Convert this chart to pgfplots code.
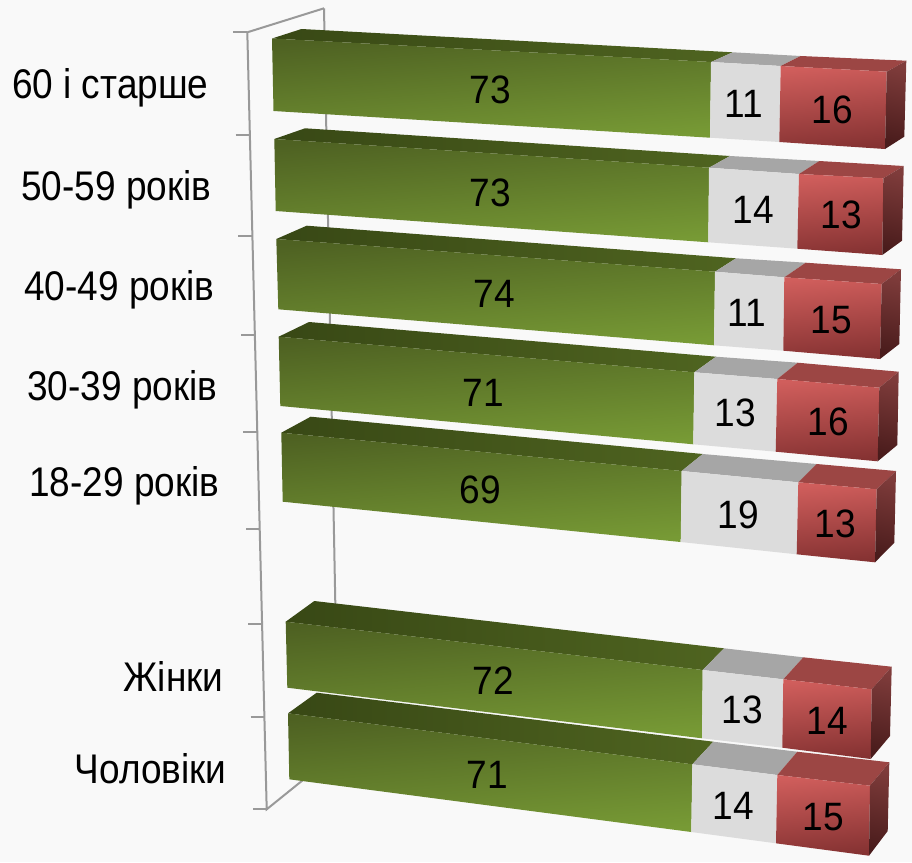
\documentclass[border=0pt]{standalone}
\usepackage{fontspec}
\setmainfont{Liberation Sans}
\usepackage{pgfplots}
\pgfplotsset{compat=1.18}

\definecolor{bgc}{HTML}{F9F9F9}
\definecolor{wall}{HTML}{999999}
\definecolor{greenT}{HTML}{4E6122}
\definecolor{greenB}{HTML}{779A35}
\definecolor{greenTopL}{HTML}{384815}
\definecolor{greenTopR}{HTML}{4F6420}
\definecolor{greyF}{HTML}{DCDCDC}
\definecolor{greyT}{HTML}{A6A6A6}
\definecolor{redT}{HTML}{D05E5C}
\definecolor{redB}{HTML}{853232}
\definecolor{redTop}{HTML}{9C4644}
\definecolor{sideT}{HTML}{7F3C3B}
\definecolor{sideB}{HTML}{4A1C1C}

% front top, front bottom, back top of the left and the right end of each part
\newcommand{\greenpart}[6]{
  \addplot[draw=none, left color=greenTopL, right color=greenTopR] coordinates {#1 #3 #6 #4} --cycle;
  \addplot[draw=none, top color=greenT, bottom color=greenB, shading angle=5] coordinates {#1 #4 #5 #2} --cycle;
}
\newcommand{\greypart}[6]{
  \addplot[draw=none, fill=greyT] coordinates {#1 #3 #6 #4} --cycle;
  \addplot[draw=none, fill=greyF] coordinates {#1 #4 #5 #2} --cycle;
}
% the last argument is the back bottom corner of the end side
\newcommand{\redpart}[7]{
  \addplot[draw=none, fill=redTop] coordinates {#1 #3 #6 #4} --cycle;
  \addplot[draw=none, top color=redT, bottom color=redB, shading angle=5] coordinates {#1 #4 #5 #2} --cycle;
  \addplot[draw=none, top color=sideT, bottom color=sideB, shading angle=-12] coordinates {#4 #6 #7 #5} --cycle;
}
\newcommand{\val}[3]{\node at (axis cs:#1,#2) {\scalebox{1.03}[1.1]{\fontsize{36}{40}\selectfont #3}};}
\newcommand{\cat}[3]{\node[anchor=east] at (axis cs:#1,#2) {\scalebox{1.0}[1.12]{\fontsize{37}{40}\selectfont #3}};}

\begin{document}
\begin{tikzpicture}
\begin{axis}[
    scale only axis,
    width=912pt, height=862pt,
    xmin=0, xmax=912,
    ymin=0, ymax=862,
    y dir=reverse,
    hide axis,
    clip=false,
    axis background/.style={fill=bgc},
]
% wall and ticks
\addplot[wall, line width=2pt] coordinates {(324,8.3) (247.3,32.3) (266.7,809.3) (303,780)};
\addplot[wall, line width=2pt] coordinates {(324,8.3) (336,640)};
\addplot[wall, line width=2pt] coordinates {(233,32.3) (247.3,32.3)};
\addplot[wall, line width=2pt] coordinates {(235.7,134.5) (249.8,134.5)};
\addplot[wall, line width=2pt] coordinates {(238,235.5) (252.3,235.5)};
\addplot[wall, line width=2pt] coordinates {(241,335) (254.8,335)};
\addplot[wall, line width=2pt] coordinates {(243.3,432.3) (257.2,432.3)};
\addplot[wall, line width=2pt] coordinates {(246,529) (259.6,529)};
\addplot[wall, line width=2pt] coordinates {(248,623.7) (262,623.7)};
\addplot[wall, line width=2pt] coordinates {(250.7,717) (264.4,717)};
\addplot[wall, line width=2pt] coordinates {(253,809.3) (266.7,809.3)};

% 60 i starshe
\greenpart{(272,38.5)}{(273.5,111)}{(301.5,29)}{(711,62)}{(710,137.7)}{(732.7,52.3)}
\greypart{(711,62)}{(710,137.7)}{(732.7,52.3)}{(780.7,66)}{(779.3,142)}{(800.7,56)}
\redpart{(780.7,66)}{(779.3,142)}{(800.7,56)}{(886.7,71.7)}{(885,149)}{(906.3,60.7)}{(904.3,136.7)}
% 50-59
\greenpart{(274.3,139)}{(275.7,211)}{(305,128.3)}{(709,167.7)}{(708.3,242.3)}{(730,156)}
\greypart{(709,167.7)}{(708.3,242.3)}{(730,156)}{(799,174)}{(797.3,248.7)}{(819.3,161)}
\redpart{(799,174)}{(797.3,248.7)}{(819.3,161)}{(883.3,178.3)}{(882.3,255)}{(903.7,166)}{(902,240.7)}
% 40-49
\greenpart{(276.3,239)}{(278.3,309.3)}{(306.7,225.7)}{(715,271.7)}{(714,345.3)}{(736,258.3)}
\greypart{(715,271.7)}{(714,345.3)}{(736,258.3)}{(784.3,277.3)}{(783.3,350.7)}{(805.7,262.7)}
\redpart{(784.3,277.3)}{(783.3,350.7)}{(805.7,262.7)}{(881.7,284)}{(880,359)}{(901,269.3)}{(899.3,344)}
% 30-39
\greenpart{(278.7,336.7)}{(280.3,406)}{(309,322)}{(694.3,372.3)}{(693.3,444.3)}{(716,356.7)}
\greypart{(694.3,372.3)}{(693.3,444.3)}{(716,356.7)}{(777.3,379)}{(775.7,451.7)}{(797.7,362.7)}
\redpart{(777.3,379)}{(775.7,451.7)}{(797.7,362.7)}{(879.3,387.7)}{(877.7,461.3)}{(898.7,371.7)}{(897.3,445)}
% 18-29
\greenpart{(281.3,432.7)}{(282.7,501.7)}{(310.7,416.7)}{(681.7,471)}{(680.7,542)}{(702.7,454)}
\greypart{(681.7,471)}{(680.7,542)}{(702.7,454)}{(798.3,482.3)}{(796.7,554.3)}{(816.7,464)}
\redpart{(798.3,482.3)}{(796.7,554.3)}{(816.7,464)}{(876.7,489.3)}{(875,562.3)}{(896,471)}{(894.3,542.7)}
% women
\greenpart{(285.7,621.7)}{(287.3,687.7)}{(314.3,601)}{(702.7,670)}{(702,738.3)}{(724,648.3)}
\greypart{(702.7,670)}{(702,738.3)}{(724,648.3)}{(783.3,679.3)}{(782.3,747.7)}{(803.3,657.3)}
\redpart{(783.3,679.3)}{(782.3,747.7)}{(803.3,657.3)}{(871.7,689.3)}{(870.7,759)}{(891.7,666.7)}{(890,736)}
% men
\greenpart{(288,713.3)}{(289.3,779.3)}{(316.7,692.7)}{(692.3,764.3)}{(691.3,832)}{(713.3,741.7)}
\greypart{(692.3,764.3)}{(691.3,832)}{(713.3,741.7)}{(777.3,775)}{(776,843.3)}{(797.3,751.7)}
\redpart{(777.3,775)}{(776,843.3)}{(797.3,751.7)}{(870,785.7)}{(869,855.7)}{(889.3,762.3)}{(887.7,831)}

\val{490}{90}{73} \val{744}{104}{11} \val{832}{110}{16}
\val{490}{193}{73} \val{753}{210}{14} \val{841}{215}{13}
\val{494}{294}{74} \val{747}{313}{11} \val{831}{320}{15}
\val{483}{393}{71} \val{735}{413}{13} \val{828}{422}{16}
\val{480}{490}{69} \val{738}{515}{19} \val{835}{524}{13}
\val{493}{681}{72} \val{742}{710}{13} \val{827}{721}{14}
\val{487}{775}{71} \val{733}{806}{14} \val{823}{817}{15}

\cat{212}{88}{60 і старше}
\cat{215}{190}{50-59 років}
\cat{218}{290}{40-49 років}
\cat{221}{390}{30-39 років}
\cat{223}{486}{18-29 років}
\cat{227}{676}{Жінки}
\cat{230}{769}{Чоловіки}
\end{axis}
\end{tikzpicture}
\end{document}
